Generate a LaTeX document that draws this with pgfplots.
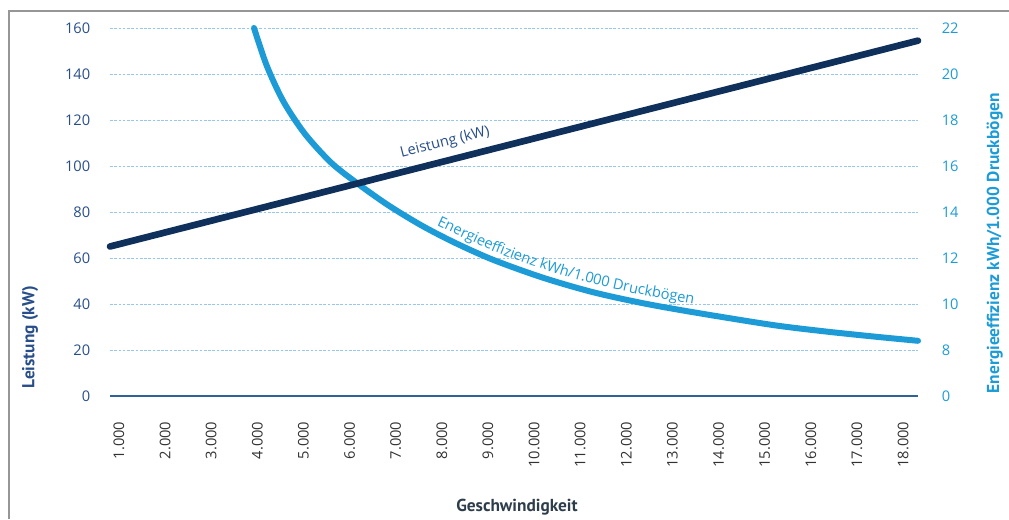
\documentclass[border=0pt]{standalone}
\usepackage{fontspec}
\setmainfont{Open Sans}
\newfontfamily\titlefont{PT Sans}
\usepackage{pgfplots}
\pgfplotsset{compat=1.18}
\usetikzlibrary{decorations.text}
\definecolor{navy}{RGB}{16,48,92}
\definecolor{eblue}{RGB}{28,155,214}
\definecolor{lblue}{RGB}{40,78,138}
\definecolor{gridc}{RGB}{150,200,235}
\definecolor{axc}{RGB}{47,99,151}
\definecolor{xlab}{RGB}{50,50,50}
\definecolor{xtitle}{RGB}{46,61,75}
\definecolor{framec}{RGB}{150,150,150}
\newcommand\efont{\fontsize{11}{13}\selectfont\color{eblue}}
\begin{document}
\begin{tikzpicture}
\useasboundingbox (0,0) rectangle (756.75pt,389.25pt);
\draw[framec, line width=1.5pt] (6.75pt,0) -- (6.75pt,381pt) -- (756.75pt,381pt);
\pgfplotsset{common/.style={at={(82.5pt,92.25pt)}, anchor=south west, scale only axis,
  width=606pt, height=276pt, xmin=1000, xmax=18000, clip=false,
  major tick length=0pt, tick style={draw=none}, scaled x ticks=false,
  /pgf/number format/assume math mode=true,
  tick label style={font=\fontsize{11}{13}\selectfont}}}
\begin{axis}[common, ymin=6, ymax=22, axis y line*=right, y axis line style={draw=none},
  axis x line=none, ytick={8,10,...,22}, extra y ticks={6}, extra y tick labels={0},
  extra y tick style={grid=none}, ymajorgrids,
  grid style={gridc, line width=0.4pt, dash pattern=on 2pt off 1.2pt},
  yticklabel style={text=eblue}, yticklabel shift=14.3pt]
\addplot[eblue, line width=4.5pt, line cap=round, smooth] coordinates {
(4030,22.0) (4300,20.35) (4650,18.8) (5100,17.4) (5650,16.15) (6200,15.25)
(6850,14.3) (7550,13.42) (8250,12.67) (9050,11.93) (10100,11.15) (11150,10.52)
(12200,10.04) (13250,9.65) (14900,9.10) (15950,8.83) (17000,8.60) (18000,8.40)};
\path[decorate, decoration={text along path, text align=left, raise=6pt,
  text={|\efont|Energieeffizienz kWh/1.000 Druckbögen}}]
  plot[smooth] coordinates {(7800,13.1) (8250,12.67) (9050,11.93) (10100,11.15)
  (11150,10.52) (12200,10.04) (13250,9.65) (14900,9.10) (15950,8.83)};
\end{axis}
\begin{axis}[common, ymin=0, ymax=160, axis y line*=left, y axis line style={draw=none},
  axis x line*=bottom, x axis line style={-, draw=axc, line width=1.5pt},
  ytick={0,20,...,160}, yticklabel style={text=lblue}, yticklabel shift=11.3pt,
  xtick={1189,2159.5,3130,4100.5,5071,6041.5,7012,7982.5,8953,9923.5,10894,11864.5,12835,13805.5,14776,15746.5,16717,17687.5},
  xticklabels={1.000,2.000,3.000,4.000,5.000,6.000,7.000,8.000,9.000,10.000,11.000,12.000,13.000,14.000,15.000,16.000,17.000,18.000},
  xticklabel style={rotate=90, anchor=east, text=xlab}, xticklabel shift=15.8pt]
\addplot[navy, line width=5pt, line cap=round] coordinates {(1000,65) (18000,154.5)}
  node[pos=0.42, sloped, above=2pt, font=\fontsize{11}{13}\selectfont, text=lblue] {Leistung (kW)};
\end{axis}
\node[rotate=90, anchor=west, font=\titlefont\bfseries\fontsize{13}{15}\selectfont, text=lblue] at (22.5pt,94.5pt) {Leistung (kW)};
\node[rotate=90, anchor=west, font=\titlefont\bfseries\fontsize{13}{15}\selectfont, text=eblue] at (746pt,90.75pt) {Energieeffizienz kWh/1.000 Druckbögen};
\node[font=\titlefont\bfseries\fontsize{13}{15}\selectfont, text=xtitle] at (387.75pt,9pt) {Geschwindigkeit};
\end{tikzpicture}
\end{document}
